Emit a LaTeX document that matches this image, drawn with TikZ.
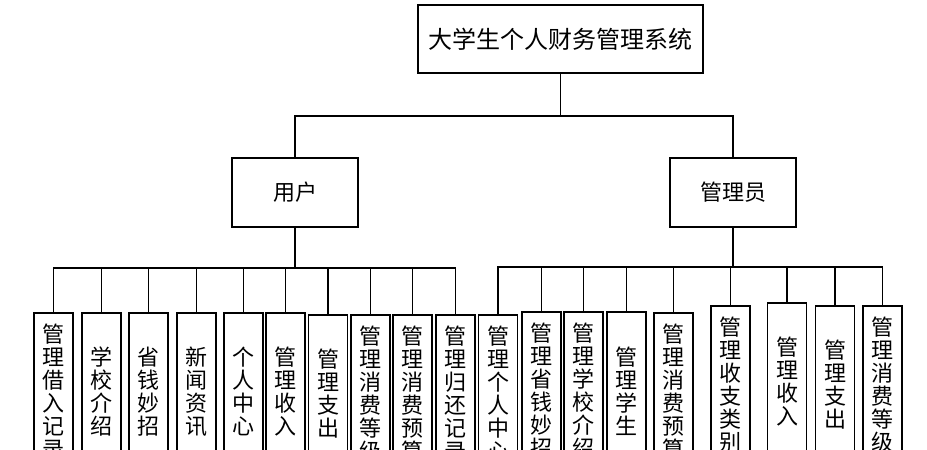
\documentclass[tikz,border=0pt]{standalone}
\usepackage{fontspec}
\setmainfont{Noto Sans CJK SC}

\begin{document}
\begin{tikzpicture}[
  x=0.5pt, y=-0.5pt,
  line width=0.75pt,
  every node/.style={draw, rectangle, line width=0.75pt, inner sep=0pt},
  sysbox/.style={minimum width=142.5pt, minimum height=34pt, font=\fontsize{12}{14}\selectfont},
  rolebox/.style={minimum width=63pt, minimum height=34.5pt, font=\fontsize{11}{13}\selectfont},
  leafbox/.style={anchor=north, minimum width=19.5pt, minimum height=79pt, align=center, font=\fontsize{11}{11.5}\selectfont}
]
\clip (0,0) rectangle (927,450);
\fill[white] (0,0) rectangle (927,450);

% top levels
\node[sysbox] (sys) at (560.5,39) {大学生个人财务管理系统};
\node[rolebox] (user) at (295,192.5) {用户};
\node[rolebox] (admin) at (733,192.5) {管理员};

\coordinate (mid) at (560.5,116);
\draw (sys.south) -- (mid);
\draw (mid) -| (user.north);
\draw (mid) -| (admin.north);

% user functions
\node[leafbox] (u1) at (53.5,312) {管\\理\\借\\入\\记\\录};
\node[leafbox] (u2) at (101.5,312) {学\\校\\介\\绍};
\node[leafbox] (u3) at (148.5,312) {省\\钱\\妙\\招};
\node[leafbox] (u4) at (196.5,312) {新\\闻\\资\\讯};
\node[leafbox] (u5) at (243.5,312) {个\\人\\中\\心};
\node[leafbox] (u6) at (285.5,312) {管\\理\\收\\入};
\node[leafbox] (u7) at (328,314) {管\\理\\支\\出};
\node[leafbox] (u8) at (370.5,314) {管\\理\\消\\费\\等\\级};
\node[leafbox] (u9) at (412.5,314) {管\\理\\消\\费\\预\\算};
\node[leafbox] (u10) at (455.5,314) {管\\理\\归\\还\\记\\录};

\coordinate (ubus) at (295,268);
\draw (user.south) -- (ubus);
\draw (ubus) -| (u1.north);
\draw (ubus) -| (u2.north);
\draw (ubus) -| (u3.north);
\draw (ubus) -| (u4.north);
\draw (ubus) -| (u5.north);
\draw (ubus) -| (u6.north);
\draw (ubus) -| (u7.north);
\draw (ubus) -| (u8.north);
\draw (ubus) -| (u9.north);
\draw (ubus) -| (u10.north);

% admin functions
\node[leafbox] (a1) at (498,314) {管\\理\\个\\人\\中\\心};
\node[leafbox] (a2) at (541.5,311) {管\\理\\省\\钱\\妙\\招};
\node[leafbox] (a3) at (583.5,311) {管\\理\\学\\校\\介\\绍};
\node[leafbox] (a4) at (626.5,311) {管\\理\\学\\生};
\node[leafbox] (a5) at (673.5,312) {管\\理\\消\\费\\预\\算};
\node[leafbox] (a6) at (730.5,305) {管\\理\\收\\支\\类\\别};
\node[leafbox] (a7) at (787,302) {管\\理\\收\\入};
\node[leafbox] (a8) at (835,305) {管\\理\\支\\出};
\node[leafbox] (a9) at (882.5,305) {管\\理\\消\\费\\等\\级};

\coordinate (abus) at (733,267);
\draw (admin.south) -- (abus);
\draw (abus) -| (a1.north);
\draw (abus) -| (a2.north);
\draw (abus) -| (a3.north);
\draw (abus) -| (a4.north);
\draw (abus) -| (a5.north);
\draw (abus) -| (a6.north);
\draw (abus) -| (a7.north);
\draw (abus) -| (a8.north);
\draw (abus) -| (a9.north);
\end{tikzpicture}
\end{document}
